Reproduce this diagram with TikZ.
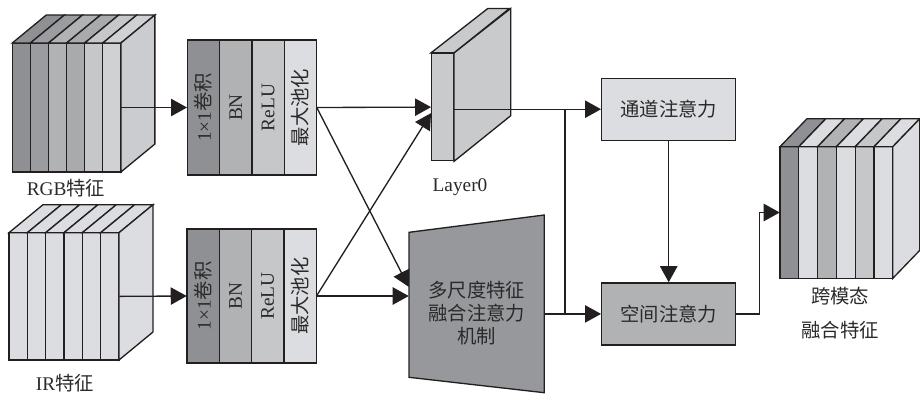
\documentclass[tikz,border=0pt]{standalone}
\usepackage{fontspec}
\setmainfont{Liberation Serif}
\newfontfamily\cjk{Noto Sans CJK SC}
\usetikzlibrary{arrows.meta,fit,calc}

\definecolor{ink}{HTML}{231F20}
\definecolor{txt}{HTML}{2A2A2A}
\definecolor{gA}{HTML}{8F9093}
\definecolor{gB}{HTML}{9B9C9F}
\definecolor{gC}{HTML}{B1B2B4}
\definecolor{gD}{HTML}{A9AAAC}
\definecolor{gE}{HTML}{C6C7C9}
\definecolor{gF}{HTML}{D0D1D3}
\definecolor{gL}{HTML}{DCDDE0}
\definecolor{gS}{HTML}{CBCCCF}
\definecolor{gT}{HTML}{97989B}
\definecolor{gY}{HTML}{C9CACC}

% six-slice feature volume: x0, top y, slice width, height, depth dx, depth dy, slice colours, side colour
\newcommand\featstack[8]{%
  \foreach \col [count=\i from 0] in {#7}{
    \pgfmathsetmacro\xa{#1+\i*#3}
    \pgfmathsetmacro\xb{#1+(\i+1)*#3}
    \filldraw[fill=\col,edge] (\xa,#2) rectangle (\xb,#2+#4);
    \filldraw[fill=\col,edge] (\xa,#2) -- (\xb,#2) -- (\xb+#5,#2+#6) -- (\xa+#5,#2+#6) -- cycle;
  }
  \filldraw[fill=#8,edge] (#1+6*#3,#2) -- (#1+6*#3+#5,#2+#6) -- (#1+6*#3+#5,#2+#4+#6) -- (#1+6*#3,#2+#4) -- cycle;
}

% conv / BN / ReLU / max-pool block: name, x0, top y, bottom y
\newcommand\convblock[4]{%
  \node[fit={(#2,#3) (#2+129.2,#4)}, inner sep=0pt] (#1) {};
  \foreach \col/\lab [count=\i from 0] in {gA/{1×1{\cjk 卷积}}, gC/BN, gE/ReLU, gL/{\cjk 最大池化}}{
    \pgfmathsetmacro\xa{#2+\i*32.3}
    \pgfmathsetmacro\xb{#2+(\i+1)*32.3}
    \filldraw[fill=\col,edge] (\xa,#3) rectangle (\xb,#4);
    \node[rotate=90, text=txt, inner sep=0pt] (#1-\i) at ({(\xa+\xb)/2},{(#3+#4)/2}) {\lab};
  }
}

\begin{document}
\begin{tikzpicture}[x=0.75pt, y=-0.75pt,
  font=\fontsize{14.5}{17.5}\selectfont,
  edge/.style={draw=ink, line width=1pt},
  link/.style={draw=ink, line width=1pt},
  arr/.style={draw=ink, line width=1pt, -{Triangle[length=12pt,width=13pt]}},
  attn/.style={draw=ink, line width=1pt, minimum width=100.5pt, minimum height=46.5pt, text=txt, font=\cjk\fontsize{14.5}{17.5}\selectfont},
  lbl/.style={text=txt, inner sep=0pt}]
\useasboundingbox (0,0) rectangle (920,394);

% input feature volumes
\featstack{12.3}{43}{18.1}{129}{34}{-28}{gA,gB,gC,gD,gE,gF}{gS}
\node[fit={(12.3,43) (120.9,172)}, inner sep=0pt] (rgb) {};
\featstack{9}{232.7}{18.33}{127.3}{34}{-28}{gL,gL,gL,gL,gL,gL}{gL}
\node[fit={(9,232.7) (119,360)}, inner sep=0pt] (ir) {};
\node[lbl] (rgbL) at (66,188) {RGB{\cjk 特征}};
\node[lbl] (irL) at (65,383) {IR{\cjk 特征}};

% stem blocks
\convblock{convA}{187.3}{40}{175}
\convblock{convB}{187}{229}{363}

% Layer0 slab
\node[fit={(431.7,53.5) (453.3,160.7)}, inner sep=0pt, fill=gY, edge] (layer0) {};
\filldraw[fill=gY,edge] (layer0.north east) -- ++(56.7,-44.3) -- ++(0,107.2) -- (layer0.south east) -- cycle;
\filldraw[fill=gY,edge] (layer0.north west) -- ++(56.7,-44.3) -- ++(21.6,0) -- (layer0.north east) -- cycle;
\node[lbl] (layer0L) at (460,187) {Layer0};

% multi-scale fusion attention (trapezoid)
\filldraw[fill=gT,edge] (409,232.3) -- (544.3,215) -- (544.3,392.7) -- (409,377.3) -- cycle;
\node[fit={(409,215) (544.3,392.7)}, inner sep=0pt] (msf) {};
\node[lbl, align=center, font=\cjk\fontsize{14.5}{17.5}\selectfont] (msfT) at (476.7,313) {多尺度特征\\融合注意力\\机制};

% attention modules
\node[attn, fill=gL] (ca) at (668.7,109.2) {通道注意力};
\node[attn, fill=gC] (sa) at (668.7,313.9) {空间注意力};

% fused output volume
\featstack{780}{146.7}{18.8}{131.6}{27}{-28}{gA,gL,gC,gL,gE,gL}{gL}
\node[fit={(780,146.7) (892.8,278.3)}, inner sep=0pt] (fused) {};
\node[lbl, align=center, font=\cjk\fontsize{14.5}{26}\selectfont] (fusedL) at (840,313) {跨模态\\融合特征};

% connectors
\draw[arr] (rgb.east) -- (convA.west);
\draw[arr] (ir.east) -- (convB.west);
\draw[arr] (convA.east) -- (layer0.west);
\draw[arr] (convB.east) -- ($(layer0.west)+(0,6)$);
\draw[arr] (convA.east) -- ($(msf.west)+(0,-17)$);
\draw[arr] (convB.east) -- (msf.west |- convB.east);

\coordinate (jTop) at (565,0 |- ca.west);
\coordinate (jBot) at (565,0 |- sa.west);
\draw[arr] (layer0.east |- ca.west) -- (ca.west);
\draw[arr] (msf.east |- sa.west) -- (sa.west);
\draw[link] (jTop) -- (jBot);
\draw[arr] (ca.south) -- (sa.north);
\draw[arr] (sa.east) -- ++(23,0) |- (fused.west);
\end{tikzpicture}
\end{document}
